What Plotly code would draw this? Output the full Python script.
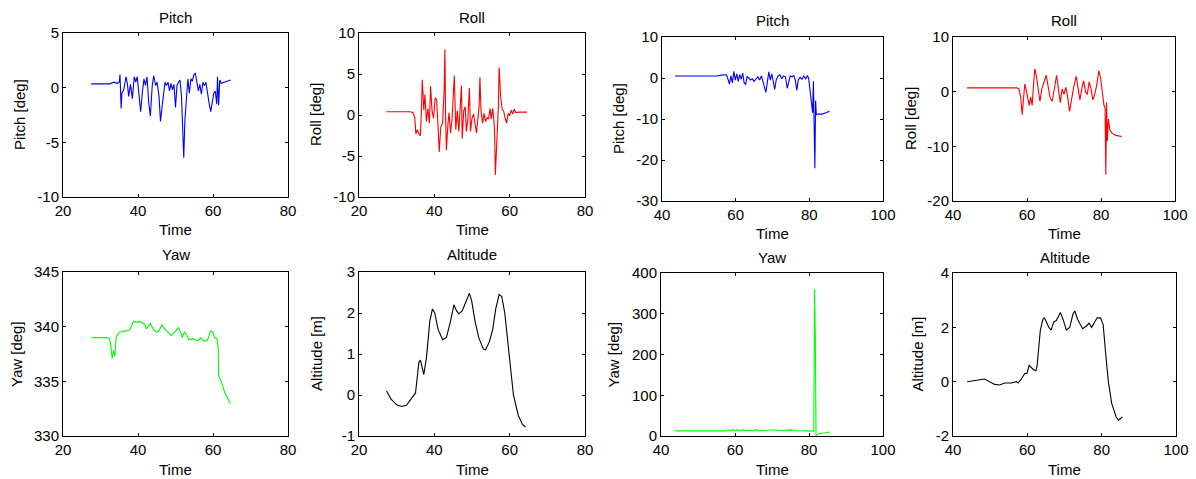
import plotly.graph_objects as go

W, H = 1196, 479

# ---------------- data ----------------
pitch1_t = [27.5, 32.5, 33.5, 34.5, 35.0, 35.2, 35.5, 35.7, 36.2, 36.8, 37.2, 37.5, 38.0, 38.5, 39.0, 39.4,
            39.8, 40.3, 40.7, 41.2, 41.6, 42.0, 42.4, 42.9, 43.3, 43.8, 44.2, 44.7, 45.1, 45.6, 46.0, 46.4,
            46.8, 47.2, 47.6, 48.0, 48.4, 48.8, 49.2, 49.6, 50.0, 50.4, 50.8, 51.2, 51.6, 52.0, 52.2, 52.5,
            52.9, 53.3, 53.7, 54.1, 54.5, 54.9, 55.3, 55.7, 56.1, 56.5, 56.9, 57.3, 57.7, 58.1, 58.5, 59.0,
            59.4, 59.8, 60.2, 60.6, 61.0, 61.2, 61.5, 61.8, 62.2, 63.0, 64.0, 64.7]
pitch1_v = [0.35, 0.35, 0.5, 0.4, 0.5, 1.2, -1.9, -0.5, -0.2, 1.0, 0.3, -0.8, 0.3, -1.0, 1.0, 0.5,
            1.0, -1.0, -2.2, -0.3, 0.8, 0.2, 1.0, -1.5, -2.6, 0.2, 1.1, 0.2, 0.5, -0.8, -3.1, -1.8,
            -0.6, 0.5, 0.2, 0.5, -0.3, 0.4, -0.2, 0.3, -1.8, 0.2, 0.5, 0.7, -0.8, -5.0, -6.4, -3.0,
            -0.7, 0.8, -0.5, 0.8, 0.6, 1.2, 1.3, 0.3, -0.3, 0.3, -0.6, 0.5, 0.2, 0.5, -0.5, -1.5,
            -2.2, -1.5, -0.5, -0.3, -1.5, 1.0, -1.6, 0.7, 0.4, 0.5, 0.6, 0.7]

roll1_t = [27.3, 33.5, 34.3, 34.8, 35.1, 35.5, 36.0, 36.3, 36.6, 36.8, 37.2, 37.5, 37.9, 38.3, 38.7, 39.0,
           39.4, 39.8, 40.2, 40.6, 41.0, 41.3, 41.7, 42.2, 42.6, 42.8, 43.0, 43.2, 43.6, 43.9, 44.3, 44.7,
           45.0, 45.3, 45.7, 46.1, 46.5, 47.0, 47.2, 47.4, 47.8, 48.2, 48.5, 48.9, 49.3, 49.6, 50.0, 50.4,
           50.8, 51.2, 51.6, 51.9, 52.1, 52.4, 52.8, 53.2, 53.6, 54.0, 54.4, 54.8, 55.1, 55.5, 55.8, 56.0,
           56.2, 56.4, 56.7, 57.0, 57.2, 57.6, 58.0, 58.4, 58.8, 59.2, 59.6, 60.0, 60.4, 60.8, 61.2, 61.6,
           62.5, 64.6]
roll1_v = [0.4, 0.4, 0.3, -0.3, -2.3, -1.8, -2.4, -2.5, 1.0, 4.3, 0.6, 2.5, -0.8, 0.8, -1.0, 3.5,
           0.5, -0.4, 2.1, 1.9, -1.5, -4.5, -1.5, -1.0, 3.0, 8.0, -0.5, -4.3, -1.2, 0.3, -2.2, -0.5,
           2.0, 4.8, -1.8, 0.5, -2.0, 3.0, 3.6, -2.9, 0.5, 1.0, -2.0, -0.5, 3.3, -2.0, -0.4, 0.1,
           -1.0, -2.2, -0.3, 1.2, 4.6, 0.5, -1.0, 0.2, -0.8, -0.3, -0.5, 0.8, -0.5, 0.8, -0.6, -2.0,
           -7.3, -5.0, -1.0, 1.0, 5.8, 2.3, 0.7, 0.5, -0.4, -1.0, 0.2, -0.1, 0.6, 0.1, 0.7, 0.3,
           0.35, 0.35]

yaw1_t = [27.6, 31.7, 32.4, 32.8, 33.1, 33.5, 33.8, 34.2, 35.1, 36.4, 37.8, 38.2, 38.8, 40.0, 40.4, 41.8,
          42.2, 43.3, 44.0, 44.9, 45.6, 46.4, 47.1, 48.0, 48.9, 49.5, 50.8, 51.6, 51.8, 52.4, 52.9, 53.6,
          54.7, 56.0, 56.7, 57.5, 58.4, 58.8, 59.3, 60.0, 60.4, 61.1, 61.4, 61.5, 62.2, 63.1, 64.6]
yaw1_v = [339.0, 339.0, 338.9, 338.2, 337.1, 337.8, 337.3, 339.1, 339.5, 339.6, 339.7, 340.0, 340.5, 340.4, 340.5, 340.2,
          339.8, 340.3, 339.8, 339.5, 339.6, 340.2, 339.8, 339.5, 339.2, 339.4, 339.9, 339.3, 339.0, 339.5, 339.3, 338.8,
          338.9, 338.7, 339.0, 338.7, 338.7, 339.0, 339.6, 339.5, 339.0, 338.9, 338.0, 335.5, 335.0, 334.0, 333.0]

alt1_t = [27.3, 28.5, 30.0, 31.3, 32.6, 33.9, 35.0, 35.9, 36.3, 37.2, 37.9, 38.8, 39.5, 40.1, 41.0, 42.2,
          43.2, 44.3, 45.2, 45.9, 46.5, 47.4, 48.3, 49.3, 49.9, 50.8, 51.8, 53.0, 53.6, 54.6, 55.5, 56.3,
          57.2, 57.9, 58.7, 59.9, 61.0, 62.3, 63.4, 64.2]
alt1_v = [0.1, -0.1, -0.24, -0.28, -0.25, -0.1, 0.05, 0.8, 0.85, 0.5, 0.9, 1.8, 2.1, 2.0, 1.6, 1.35,
          1.4, 1.8, 2.2, 2.05, 1.98, 2.05, 2.25, 2.48, 2.3, 1.8, 1.4, 1.12, 1.1, 1.3, 1.6, 2.1,
          2.45, 2.4, 2.0, 1.0, 0.0, -0.5, -0.72, -0.78]

pitch2_t = [43.5, 55.0, 56.0, 57.5, 58.0, 58.3, 58.7, 59.1, 59.5, 59.9, 60.3, 60.7, 61.1, 61.5, 61.9, 62.3,
            62.7, 63.1, 63.6, 64.0, 64.5, 65.0, 65.5, 66.0, 66.5, 67.0, 67.5, 67.9, 68.2, 68.6, 69.0, 69.4,
            69.8, 70.2, 70.6, 71.0, 71.5, 72.0, 72.5, 73.0, 73.5, 74.0, 74.4, 74.8, 75.3, 75.8, 76.2, 76.6,
            77.0, 77.5, 78.0, 78.5, 79.0, 79.5, 79.8, 80.2, 80.6, 80.9, 81.1, 81.3, 81.5, 81.7, 81.9, 82.3,
            83.5, 84.5, 85.5]
pitch2_v = [0.5, 0.5, 0.7, 0.8, -0.5, -1.5, 0.5, -1.2, 1.6, -0.5, 1.0, -0.8, 0.8, -0.3, 1.2, -1.2,
            -1.5, 0.3, 0.0, -0.5, -0.2, -0.8, -0.3, 0.3, -0.5, 0.5, -1.2, -3.0, -3.5, -1.0, 1.5, -0.5,
            1.0, -0.8, -2.8, -0.5, 0.5, 0.8, -0.2, 0.5, 0.3, -2.5, -1.0, 0.5, 0.3, 0.6, -0.5, -3.0,
            -0.5, 0.2, -0.3, 0.5, -0.2, 0.5, 0.0, -3.0, -7.0, -8.5, -0.8, -9.0, -22.0, -5.5, -9.0, -8.8,
            -8.8, -8.5, -8.1]

roll2_t = [43.8, 57.3, 57.8, 58.3, 58.7, 59.0, 59.4, 59.8, 60.2, 60.6, 61.0, 61.4, 61.8, 62.1, 62.5, 63.0,
           63.5, 64.0, 64.6, 65.2, 65.7, 66.2, 66.8, 67.4, 68.0, 68.5, 69.0, 69.5, 70.0, 70.5, 71.0, 71.5,
           72.0, 72.6, 73.3, 73.8, 74.3, 74.8, 75.3, 75.8, 76.3, 76.8, 77.3, 77.8, 78.3, 78.8, 79.4, 79.9,
           80.4, 80.8, 81.1, 81.3, 81.5, 81.7, 82.0, 82.4, 83.0, 84.0, 85.6]
roll2_v = [0.7, 0.7, 0.5, -1.0, -4.2, -1.0, 1.4, 0.3, -1.5, -2.5, -1.0, -2.5, 1.5, 4.2, 3.0, 0.5,
           -1.8, 0.5, 2.0, 3.0, 1.0, -1.0, -1.8, 1.0, 3.0, 0.5, -2.0, 0.5, -0.5, 0.8, -1.0, -3.6,
           -1.5, 0.8, 2.8, 0.5, -1.5, 0.5, 2.0, 0.0, -0.5, 1.8, 0.5, -1.5, -0.5, 1.0, 3.8, 2.5,
           -1.0, -2.5, -3.0, -15.2, -2.0, -9.0, -5.0, -7.0, -7.6, -8.0, -8.2]

yaw2_t = [43.8, 57.5, 58.2, 58.8, 59.4, 60.0, 60.6, 61.2, 62.0, 63.0, 64.0, 65.0, 65.8, 66.6, 68.0, 69.5,
          70.5, 71.5, 73.0, 74.0, 75.0, 76.0, 77.5, 79.0, 80.5, 81.3, 81.5, 81.7, 81.9, 82.1, 83.0, 84.5, 85.6]
yaw2_v = [12.5, 12.5, 15.0, 13.0, 16.0, 12.5, 15.5, 13.0, 15.0, 13.5, 14.0, 13.0, 16.0, 13.0, 13.5, 14.0,
          15.5, 14.0, 13.0, 14.5, 15.0, 13.5, 13.0, 13.0, 12.5, 12.0, 360.0, 250.0, 2.0, 3.0, 6.0, 8.0, 10.0]

alt2_t = [43.8, 48.5, 51.2, 52.6, 53.9, 55.7, 57.1, 57.5, 58.4, 59.3, 59.9, 60.5, 61.6, 62.3, 62.6, 63.5,
          64.2, 64.6, 65.8, 66.4, 67.1, 67.8, 68.9, 69.6, 70.5, 71.4, 72.3, 72.8, 73.5, 74.9, 75.9, 76.6,
          77.3, 77.9, 78.8, 79.7, 80.4, 81.1, 81.8, 82.7, 83.9, 84.5, 85.2, 85.6]
alt2_v = [0.0, 0.1, -0.1, -0.12, -0.05, -0.05, 0.0, -0.05, 0.1, 0.3, 0.3, 0.6, 0.45, 0.4, 0.55, 1.9,
          2.3, 2.35, 2.0, 1.9, 2.2, 2.25, 2.55, 2.3, 1.9, 2.0, 2.5, 2.6, 2.3, 1.95, 2.05, 2.15,
          2.0, 2.15, 2.35, 2.35, 2.1, 1.0, 0.0, -0.8, -1.3, -1.42, -1.35, -1.3]

titles = ["Pitch", "Roll", "Pitch", "Roll", "Yaw", "Altitude", "Yaw", "Altitude"]
ylabels = ["Pitch [deg]", "Roll [deg]", "Pitch [deg]", "Roll [deg]",
           "Yaw [deg]", "Altitude [m]", "Yaw [deg]", "Altitude [m]"]
xlabel = "Time"
series_t = [pitch1_t, roll1_t, pitch2_t, roll2_t, yaw1_t, alt1_t, yaw2_t, alt2_t]
series_v = [pitch1_v, roll1_v, pitch2_v, roll2_v, yaw1_v, alt1_v, yaw2_v, alt2_v]
colors = ["#0000ff", "#ff0000", "#0000ff", "#ff0000", "#00ff00", "#000000", "#00ff00", "#000000"]

# tick values (labels use plain hyphen minus as in the reference)
xticks_a = [20, 40, 60, 80]
xticks_b = [40, 60, 80, 100]
xticks = [xticks_a, xticks_a, xticks_b, xticks_b, xticks_a, xticks_a, xticks_b, xticks_b]
yticks = [[-10, -5, 0, 5], [-10, -5, 0, 5, 10], [-30, -20, -10, 0, 10], [-20, -10, 0, 10],
          [330, 335, 340, 345], [-1, 0, 1, 2, 3], [0, 100, 200, 300, 400], [-2, 0, 2, 4]]

# axes boxes in pixels (left, right, top, bottom)
boxes = [(63, 288, 33, 197), (359, 585, 33, 197), (662, 883, 37, 201), (953, 1175, 37, 201),
         (63, 288, 272, 436), (359, 585, 272, 436), (661, 883, 273, 436), (953, 1176, 273, 436)]
# label positions in pixels: title centre y, xlabel centre y, ylabel centre x
title_y = [17, 17, 20, 20, 254, 254, 257, 257]
xlab_y = [230, 230, 233, 233, 469, 469, 469, 469]
ylab_x = [20, 316, 618, 910, 16, 316, 613, 917]

FONT = "Liberation Sans, Arial, sans-serif"
FS = 15
fig = go.Figure()
layout = dict(width=W, height=H, margin=dict(l=0, r=0, t=0, b=0, autoexpand=False),
              paper_bgcolor="white", plot_bgcolor="white", showlegend=False,
              font=dict(family=FONT, size=FS, color="black"), annotations=[])

def ann(text, xp, yp, angle=0):
    return dict(text=text, x=xp / W, y=1 - yp / H, xref="paper", yref="paper",
                xanchor="center", yanchor="middle", showarrow=False, textangle=angle,
                font=dict(family=FONT, size=FS, color="black"))

for i in range(8):
    n = i + 1
    xa = "x" if n == 1 else f"x{n}"
    ya = "y" if n == 1 else f"y{n}"
    fig.add_trace(go.Scatter(x=series_t[i], y=series_v[i], mode="lines",
                             line=dict(color=colors[i], width=1.1), xaxis=xa, yaxis=ya,
                             hoverinfo="skip"))
    l, r, t, b = boxes[i]
    common = dict(showline=True, linecolor="black", linewidth=1, mirror="allticks",
                  ticks="inside", ticklen=3, tickcolor="black", showgrid=False, zeroline=False,
                  automargin=False, tickfont=dict(family=FONT, size=FS, color="black"),
                  fixedrange=True)
    layout["xaxis" if n == 1 else f"xaxis{n}"] = dict(
        domain=[l / W, r / W], range=[xticks[i][0], xticks[i][-1]],
        tickmode="array", tickvals=xticks[i], ticktext=[str(v) for v in xticks[i]],
        anchor=ya, **common)
    layout["yaxis" if n == 1 else f"yaxis{n}"] = dict(
        domain=[1 - b / H, 1 - t / H], range=[yticks[i][0], yticks[i][-1]],
        tickmode="array", tickvals=yticks[i], ticktext=[str(v) for v in yticks[i]],
        anchor=xa, **common)
    layout["annotations"].append(ann(titles[i], (l + r) / 2, title_y[i]))
    layout["annotations"].append(ann(xlabel, (l + r) / 2, xlab_y[i]))
    layout["annotations"].append(ann(ylabels[i], ylab_x[i], (t + b) / 2, -90))

fig.update_layout(**layout)
fig.write_html("out.html", config={"displayModeBar": False},
               post_script="document.body.style.margin='0';document.body.style.overflow='hidden';")
